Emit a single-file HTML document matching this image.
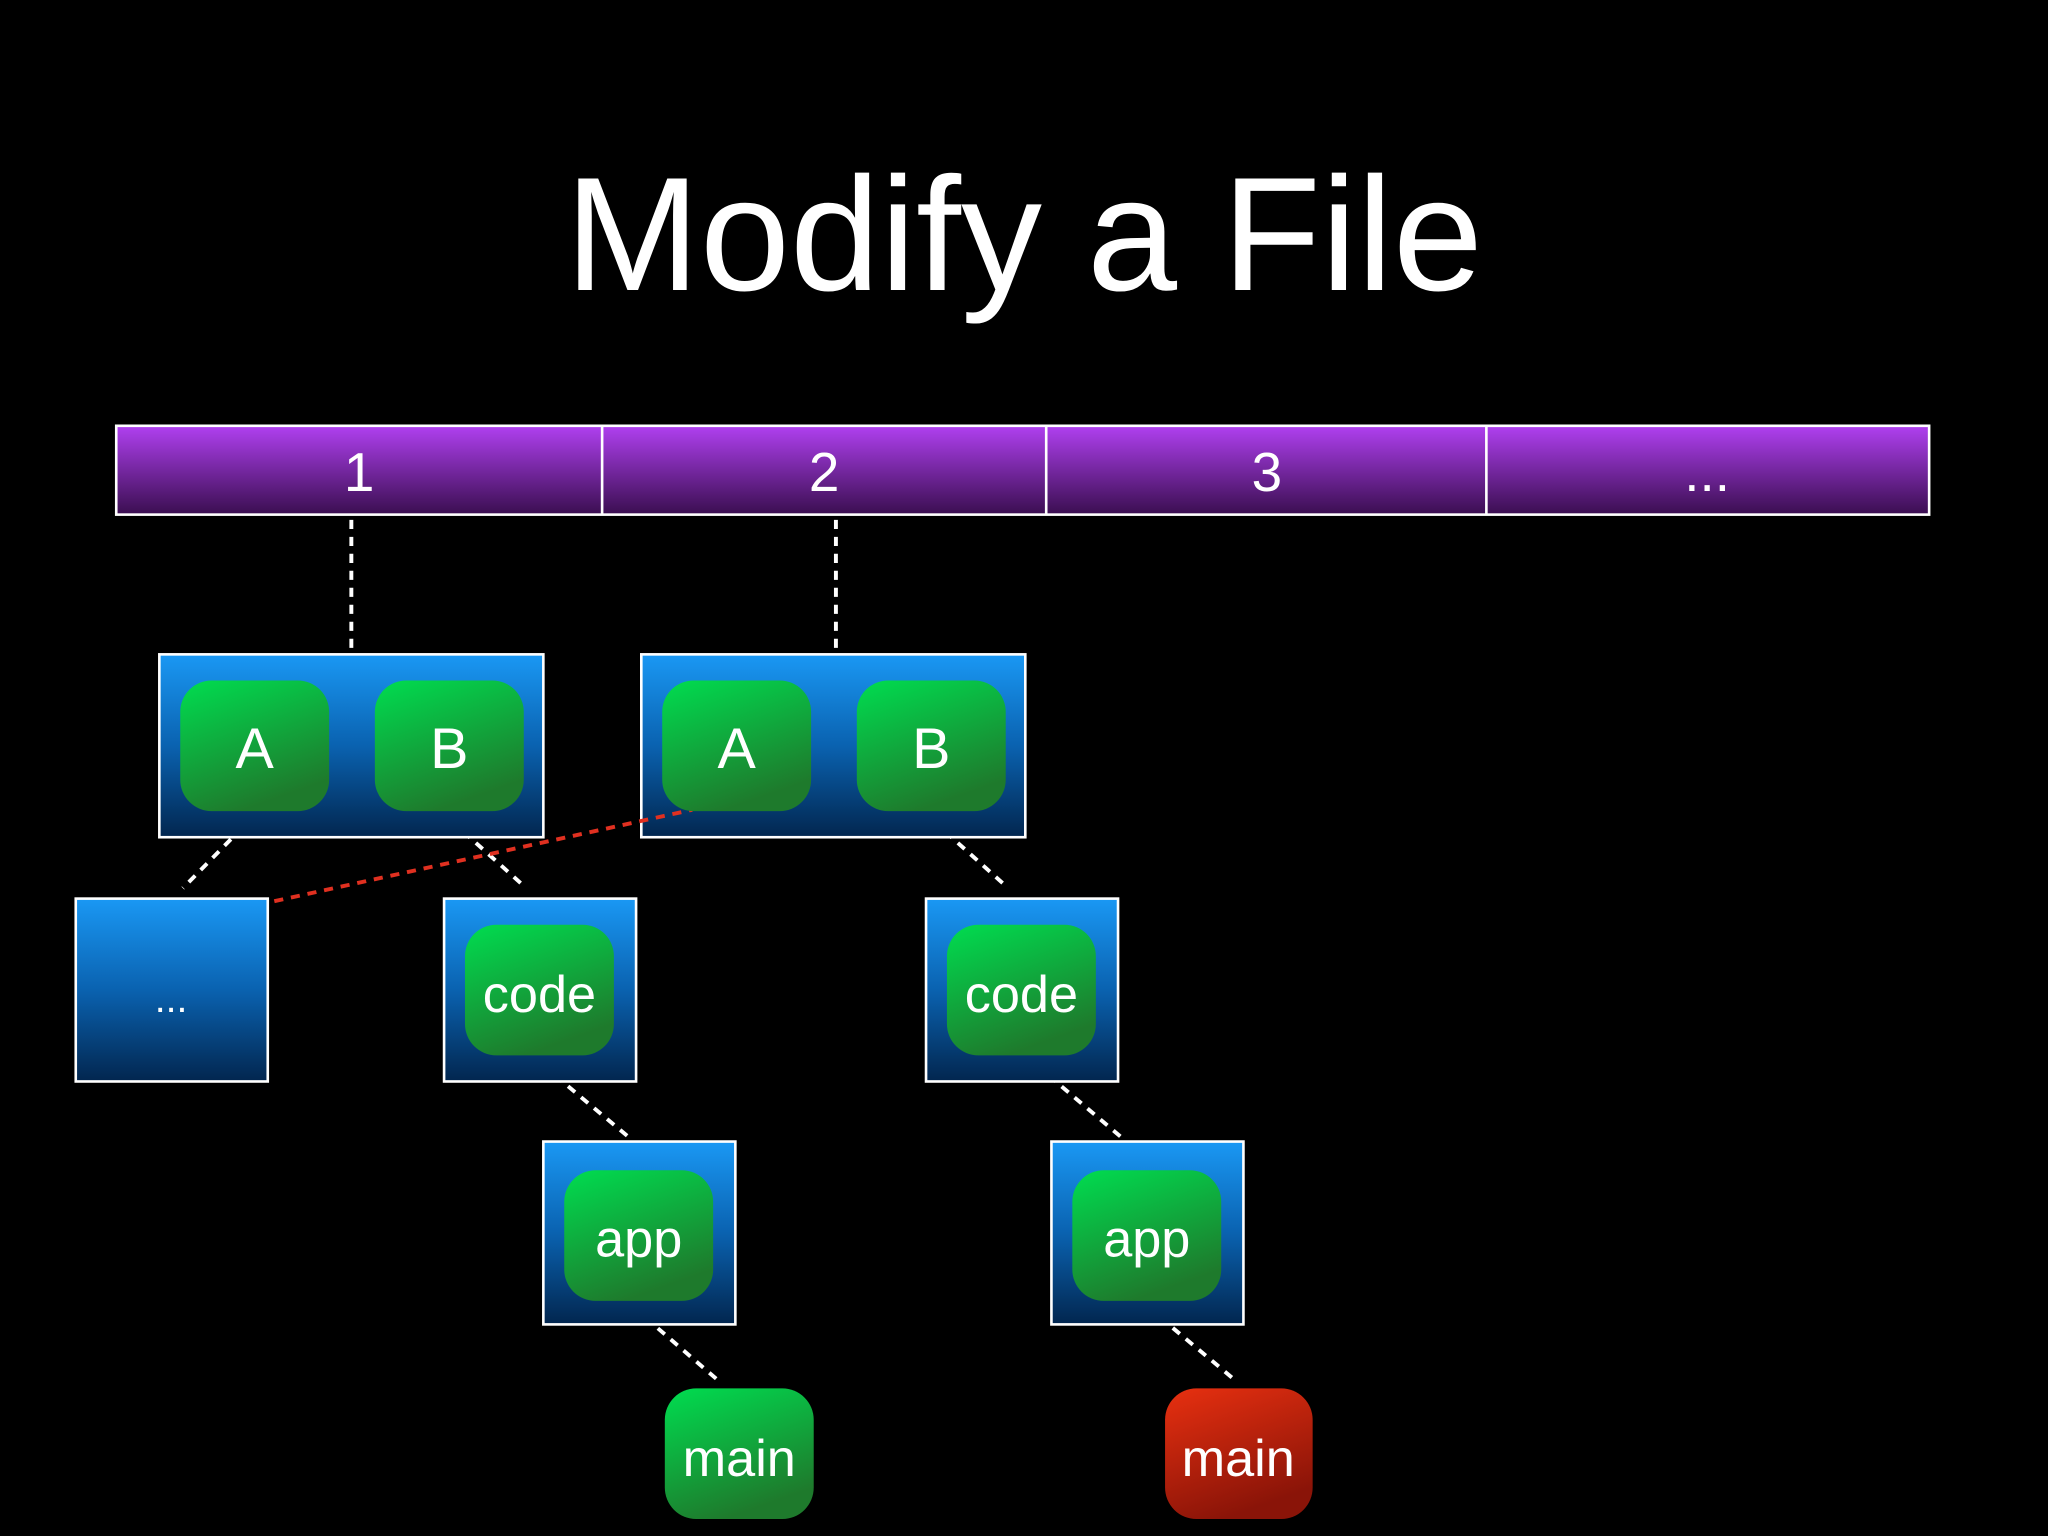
<!DOCTYPE html>
<html><head><style>html,body{margin:0;padding:0;background:#000;}svg{display:block}</style></head>
<body>
<svg width="2048" height="1536" viewBox="0 0 1568 1176" xmlns="http://www.w3.org/2000/svg" font-family="Liberation Sans, sans-serif">
<defs>
<linearGradient id="pu" x1="0" y1="0" x2="0" y2="1"><stop offset="0" stop-color="#b040f0"/><stop offset="1" stop-color="#3a0e50"/></linearGradient>
<linearGradient id="bl" x1="0" y1="0" x2="0" y2="1"><stop offset="0" stop-color="#1a98f4"/><stop offset="0.5" stop-color="#0a62b0"/><stop offset="1" stop-color="#02264f"/></linearGradient>
<linearGradient id="gr" x1="0" y1="0" x2="0.4" y2="1"><stop offset="0" stop-color="#00dd50"/><stop offset="1" stop-color="#1e7a2c"/></linearGradient>
<linearGradient id="rd" x1="0" y1="0" x2="0.4" y2="1"><stop offset="0" stop-color="#e83010"/><stop offset="1" stop-color="#8a1408"/></linearGradient>
</defs>
<rect width="1568" height="1176" fill="#000"/>
<text x="784" y="222" text-anchor="middle" fill="#fff" font-size="124">Modify a File</text>
<rect x="89" y="326" width="1388" height="68" fill="url(#pu)" stroke="#fff" stroke-width="2"/>
<g stroke="#fff" stroke-width="2"><line x1="461" y1="326" x2="461" y2="394"/><line x1="801" y1="326" x2="801" y2="394"/><line x1="1138" y1="326" x2="1138" y2="394"/></g>
<g fill="#fff" font-size="42" text-anchor="middle"><text x="275" y="376">1</text><text x="631" y="376">2</text><text x="970" y="376">3</text><text x="1307" y="376">...</text></g>
<g stroke="#fff" stroke-width="3" stroke-dasharray="7,6" fill="none">
<line x1="269" y1="398" x2="269" y2="499"/><line x1="640" y1="398" x2="640" y2="499"/>
<line x1="195" y1="624" x2="140" y2="680"/><line x1="345" y1="628" x2="403" y2="680"/>
<line x1="714" y1="628" x2="772" y2="680"/><line x1="415" y1="815" x2="483" y2="872"/>
<line x1="793" y1="815" x2="860" y2="872"/><line x1="484" y1="1000" x2="550" y2="1057"/>
<line x1="878" y1="1000" x2="946" y2="1057"/>
</g>
<g stroke="#fff" stroke-width="2" fill="url(#bl)">
<rect x="122" y="501" width="294" height="140"/><rect x="491" y="501" width="294" height="140"/>
<rect x="58" y="688" width="147" height="140"/><rect x="340" y="688" width="147" height="140"/>
<rect x="709" y="688" width="147" height="140"/><rect x="416" y="874" width="147" height="140"/>
<rect x="805" y="874" width="147" height="140"/>
</g>
<line x1="210" y1="690" x2="530" y2="620" stroke="#e03020" stroke-width="3" stroke-dasharray="7,6"/>
<g fill="url(#gr)">
<rect x="138" y="521" width="114" height="100" rx="24"/><rect x="287" y="521" width="114" height="100" rx="24"/>
<rect x="507" y="521" width="114" height="100" rx="24"/><rect x="656" y="521" width="114" height="100" rx="24"/>
<rect x="356" y="708" width="114" height="100" rx="24"/><rect x="725" y="708" width="114" height="100" rx="24"/>
<rect x="432" y="896" width="114" height="100" rx="24"/><rect x="821" y="896" width="114" height="100" rx="24"/>
<rect x="509" y="1063" width="114" height="100" rx="24"/>
</g>
<rect x="892" y="1063" width="113" height="100" rx="24" fill="url(#rd)"/>
<line x1="210" y1="690" x2="530" y2="620" stroke="#e03020" stroke-width="3" stroke-dasharray="7,6" opacity="0"/>
<g fill="#fff" text-anchor="middle">
<g font-size="44"><text x="195" y="588">A</text><text x="344" y="588">B</text><text x="564" y="588">A</text><text x="713" y="588">B</text></g>
<g font-size="40"><text x="413" y="775">code</text><text x="782" y="775">code</text><text x="489" y="962">app</text><text x="878" y="962">app</text><text x="566" y="1130">main</text><text x="948" y="1130">main</text></g>
<text x="131" y="775" font-size="30">...</text>
</g>
</svg>
</body></html>
